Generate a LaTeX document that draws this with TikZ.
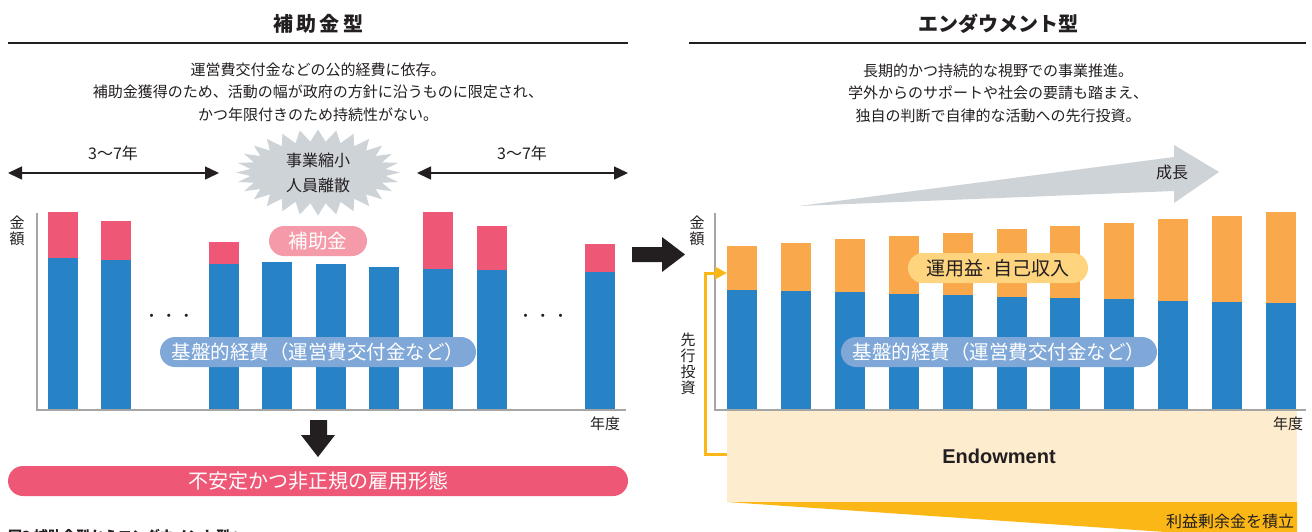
\documentclass[tikz,border=0pt]{standalone}
\usepackage{fontspec}
\setmainfont{Noto Sans CJK JP}
\newfontfamily\latinfont{Liberation Sans}
\usetikzlibrary{arrows.meta}
\definecolor{ink}{RGB}{35,31,32}
\definecolor{barblue}{RGB}{40,130,198}
\definecolor{barpink}{RGB}{238,88,118}
\definecolor{pillpink}{RGB}{245,154,168}
\definecolor{pillblue}{RGB}{127,168,216}
\definecolor{barorange}{RGB}{249,168,75}
\definecolor{pillyellow}{RGB}{254,212,126}
\definecolor{beige}{RGB}{253,236,206}
\definecolor{gold}{RGB}{251,183,22}
\definecolor{burstgray}{RGB}{205,211,215}
\definecolor{axisgray}{RGB}{165,165,165}
\begin{document}
\begin{tikzpicture}[x=1pt,y=-1pt,
  txt/.style={text=ink,inner sep=0pt,font=\fontsize{15}{16}\selectfont},
  title/.style={text=ink,inner sep=0pt,font=\bfseries\fontsize{20}{22}\selectfont},
  desc/.style={text=ink,inner sep=0pt,align=center,font=\fontsize{15}{22.5}\selectfont},
  rule/.style={draw=ink,line width=1.2pt},
  dbl/.style={draw=ink,line width=1.5pt,{Triangle[length=14pt,width=13pt]}-{Triangle[length=14pt,width=13pt]}},
  axis/.style={draw=axisgray,line width=1.5pt},
  pill/.style={rounded corners=15pt,minimum height=30pt,inner sep=0pt,font=\fontsize{19.5}{20}\selectfont},
  vlabel/.style={text=ink,inner sep=0pt,align=center,font=\fontsize{15}{16}\selectfont},
  yarrow/.style={draw=gold,line width=3pt,-{Triangle[length=12pt,width=12pt]}}
]
\useasboundingbox (0,0) rectangle (1312,531);

% ---------- titles ----------
\node[title] (t1) at (318,24) {補\,助\,金\,型};
\node[title] (t2) at (998,24) {エンダウメント型};
\draw[rule] (8,43) -- (628,43);
\draw[rule] (689,43) -- (1306,43);

\node[desc] (d1) at (318,92) {運営費交付金などの公的経費に依存。\\補助金獲得のため、活動の幅が政府の方針に沿うものに限定され、\\かつ年限付きのため持続性がない。};
\node[desc] (d2) at (998,93) {長期的かつ持続的な視野での事業推進。\\学外からのサポートや社会の要請も踏まえ、\\独自の判断で自律的な活動への先行投資。};

% ---------- left: period arrows ----------
\coordinate (la1) at (8,173);
\coordinate (la2) at (219,173);
\coordinate (ra1) at (417,173);
\coordinate (ra2) at (628,173);
\draw[dbl] (la1) -- (la2);
\draw[dbl] (ra1) -- (ra2);
\node[txt,font=\fontsize{16}{16}\selectfont] (p1) at (113,153) {3〜7年};
\node[txt,font=\fontsize{16}{16}\selectfont] (p2) at (522,153) {3〜7年};

% burst
\fill[burstgray] (400,172.5) \foreach \j in {0,...,27}{
   -- ({318+82*cos(\j*360/28)},{172.5+43*sin(\j*360/28)})
   -- ({318+68*cos((\j+0.5)*360/28)},{172.5+31*sin((\j+0.5)*360/28)}) } -- cycle;
\node[text=ink,inner sep=0pt,align=center,font=\fontsize{16}{25}\selectfont] (burst) at (318,172.5) {事業縮小\\人員離散};

% ---------- left chart ----------
\foreach \x/\b in {48/258,101/260,209/264,262/262,316/264,369/267,423/269,477/270,585/272}
  \fill[barblue] (\x,\b) rectangle (\x+30,410);
\foreach \x/\p/\b in {48/212/258,101/221/260,209/242/264,423/212/269,477/226/270,585/244/272}
  \fill[barpink] (\x,\p) rectangle (\x+30,\b);
\draw[axis] (37,213) -- (37,410) -- (626,410);
\node[vlabel] (ly) at (17,231) {金\\額};
\node[txt] (lx) at (605,424) {年度};
\node[txt,font=\fontsize{15}{16}\selectfont] (dots1) at (169,318) {・\,・\,・};
\node[txt,font=\fontsize{15}{16}\selectfont] (dots2) at (543,318) {・\,・\,・};

\node[pill,fill=pillpink,text=white,minimum width=98pt] (hojo) at (318,241) {補助金};
\node[pill,fill=pillblue,text=white,minimum width=316pt] (kiban1) at (318,352) {基盤的経費（運営費交付金など）};

% down arrow
\fill[ink] (310,420) -- (327,420) -- (327,435) -- (335,435) -- (318,457) -- (301,435) -- (310,435) -- cycle;

\node[pill,fill=barpink,text=white,minimum width=620pt,font=\fontsize{20}{20}\selectfont] (unstable) at (318,481) {不安定かつ非正規の雇用形態};

% caption (cut by page edge, as in the reference)
\node[text=ink,inner sep=0pt,anchor=west,font=\bfseries\fontsize{14}{14}\selectfont] (cap) at (8,536) {図3 補助金型からエンダウメント型へ};

% ---------- center arrow ----------
\fill[ink] (632,247) -- (662,247) -- (662,237) -- (685,254.5) -- (662,272) -- (662,262) -- (632,262) -- cycle;

% ---------- right: growth wedge ----------
\fill[burstgray] (799,206) -- (1174,157) -- (1174,145) -- (1219,172) -- (1174,203) -- (1174,191) -- cycle;
\node[txt,font=\fontsize{16}{16}\selectfont] (grow) at (1172,172) {成長};

% ---------- right chart ----------
\node[fill=beige,draw=none,anchor=north west,minimum width=570pt,minimum height=92pt,inner sep=0pt] (endow) at (727,410) {};
\fill[gold] (727,502) -- (1297,502) -- (1297,541) -- cycle;
\node[txt,font=\fontsize{16}{16}\selectfont] (rieki) at (1230,521) {利益剰余金を積立};
\node[text=ink,inner sep=0pt,font=\latinfont\bfseries\fontsize{20}{20}\selectfont] (endowtxt) at (999,456) {Endowment};

\foreach \i/\o/\b in {0/246/290,1/243/291,2/239/292,3/236/294,4/233/295,5/229/297,6/226/298,7/223/299,8/219/301,9/216/302,10/212/303}{
  \fill[barorange] ({727+53.9*\i},\o) rectangle ({757+53.9*\i},\b);
  \fill[barblue] ({727+53.9*\i},\b) rectangle ({757+53.9*\i},410);
}
\draw[axis] (715,213) -- (715,410) -- (1306,410);
\node[vlabel] (ry) at (697,231) {金\\額};
\node[txt] (rx) at (1288,424) {年度};
\node[vlabel,font=\fontsize{15}{16}\selectfont] (senko) at (688,364) {先\\行\\投\\資};

\node[pill,fill=pillyellow,text=ink,minimum width=180pt,font=\fontsize{19}{20}\selectfont] (unyo) at (998,268) {運用益·自己収入};
\node[pill,fill=pillblue,text=white,minimum width=316pt] (kiban2) at (999,352) {基盤的経費（運営費交付金など）};

% yellow elbow arrow
\coordinate (ys) at (727,454);
\coordinate (yc1) at (705,454);
\coordinate (yc2) at (705,273);
\coordinate (ye) at (727,273);
\draw[yarrow] (ys) -- (yc1) -- (yc2) -- (ye);
\end{tikzpicture}
\end{document}
